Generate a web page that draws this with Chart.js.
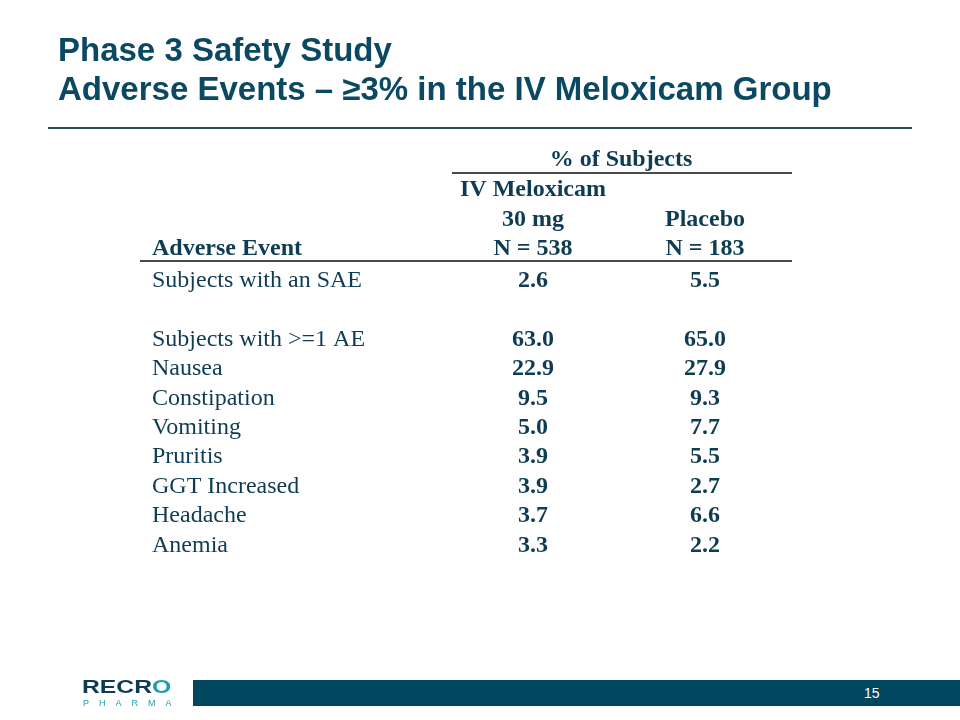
<!DOCTYPE html>
<html>
<head>
<meta charset="utf-8">
<script src="https://cdn.jsdelivr.net/npm/chart.js@4.4.1/dist/chart.umd.min.js"></script>
<style>
  html, body { margin: 0; padding: 0; background: #fff; }
  #page { position: relative; width: 960px; height: 720px; overflow: hidden; }
  #chart { position: absolute; left: 0; top: 0; }
  .title { position: absolute; left: 58px; color: #0b4862; font: bold 33px "Liberation Sans", Arial, sans-serif; white-space: nowrap; }
  #rule { position: absolute; left: 48px; top: 127px; width: 864px; height: 2px; background: #2b4b5a; }
  #bar { position: absolute; left: 193px; top: 680px; width: 767px; height: 26px; background: #00475f; }
  #pageNo { position: absolute; left: 864px; top: 685px; color: #fff; font: 14px "Liberation Sans", Arial, sans-serif; }
  #logo { position: absolute; left: 82px; top: 676px; color: #0d3b54; font: 900 19px "Liberation Sans", Arial, sans-serif; transform: scaleX(1.3); transform-origin: left top; }
  #logo span { color: #1aa0b0; }
  #pharma { position: absolute; left: 83px; top: 698px; color: #1aa0b0; font: 9px "Liberation Sans", Arial, sans-serif; letter-spacing: 10px; }
</style>
</head>
<body>
<div id="page">
  <canvas id="chart" width="960" height="720"></canvas>
  <div class="title" style="top:31px">Phase 3 Safety Study</div>
  <div class="title" style="top:70px">Adverse Events – ≥3% in the IV Meloxicam Group</div>
  <div id="rule"></div>
  <div id="bar"></div>
  <div id="pageNo">15</div>
  <div id="logo">RECR<span>O</span></div>
  <div id="pharma">PHARMA</div>
</div>
<script>
const events = ['Subjects with an SAE', '', 'Subjects with >=1 AE', 'Nausea', 'Constipation',
  'Vomiting', 'Pruritis', 'GGT Increased', 'Headache', 'Anemia'];
const meloxicam = [2.6, null, 63.0, 22.9, 9.5, 5.0, 3.9, 3.9, 3.7, 3.3];
const placebo = [5.5, null, 65.0, 27.9, 9.3, 7.7, 5.5, 2.7, 6.6, 2.2];
const columns = ['IV Meloxicam|30 mg|N = 538', 'Placebo|N = 183'];
const groupTitle = '% of Subjects';
const rowHeader = 'Adverse Event';

const ink = '#0e3c52';
const serif = '"Liberation Serif", "Times New Roman", serif';

// blank spacer row has no values, so it gets no point
function toPoints(values, col) {
  return values
    .map((v, i) => ({ x: col, y: events[i], v: v }))
    .filter(p => p.v !== null);
}

const tableText = {
  id: 'tableText',
  afterDatasetsDraw(chart) {
    const ctx = chart.ctx;
    const xs = chart.scales.x;
    const top = chart.chartArea.top;
    ctx.save();
    ctx.fillStyle = ink;
    ctx.textBaseline = 'middle';

    // cell values
    ctx.font = 'bold 24px ' + serif;
    ctx.textAlign = 'center';
    chart.data.datasets.forEach((ds, di) => {
      chart.getDatasetMeta(di).data.forEach((el, i) => {
        const p = ds.data[i];
        ctx.fillText(p.v.toFixed(1), el.x, el.y);
      });
    });

    // header
    const c1 = xs.getPixelForValue(1);
    const c2 = xs.getPixelForValue(2);
    ctx.fillText(groupTitle, (c1 + c2) / 2 + 2, top - 106);
    const h1 = columns[0].split('|');
    const h2 = columns[1].split('|');
    h1.forEach((t, i) => ctx.fillText(t, c1, top - 17 - (h1.length - 1 - i) * 29.5));
    h2.forEach((t, i) => ctx.fillText(t, c2, top - 17 - (h2.length - 1 - i) * 29.5));
    ctx.textAlign = 'left';
    ctx.fillText(rowHeader, 152, top - 17);

    // rules
    ctx.strokeStyle = '#111';
    ctx.lineWidth = 1.5;
    ctx.beginPath();
    ctx.moveTo(452, top - 93); ctx.lineTo(792, top - 93);
    ctx.moveTo(140, top - 5); ctx.lineTo(792, top - 5);
    ctx.stroke();
    ctx.restore();
  }
};

new Chart(document.getElementById('chart'), {
  type: 'scatter',
  data: {
    labels: events,
    datasets: [
      { label: 'IV Meloxicam 30 mg', data: toPoints(meloxicam, 1), pointRadius: 0 },
      { label: 'Placebo', data: toPoints(placebo, 2), pointRadius: 0 }
    ]
  },
  options: {
    responsive: false,
    animation: false,
    layout: { padding: { left: 152, right: 169, top: 266, bottom: 160 } },
    plugins: { legend: { display: false }, tooltip: { enabled: false } },
    scales: {
      x: { type: 'linear', min: 0.5, max: 2.5, display: false },
      y: {
        type: 'category',
        labels: events,
        offset: true,
        grid: { display: false, drawTicks: false },
        border: { display: false },
        afterFit: (scale) => { scale.width = 295; },
        ticks: {
          crossAlign: 'far',
          color: ink,
          font: { family: serif, size: 24 },
          padding: 0,
          autoSkip: false
        }
      }
    }
  },
  plugins: [tableText]
});
</script>
</body>
</html>
